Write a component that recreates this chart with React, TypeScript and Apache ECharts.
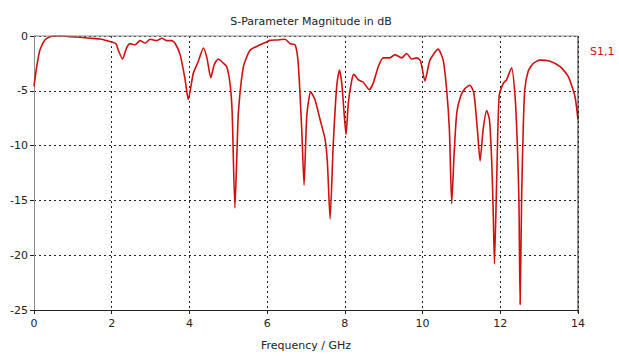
import React, { useEffect, useRef } from "react";
import * as echarts from "echarts";

const title = "S-Parameter Magnitude in dB";
const seriesName = "S1,1";
const xAxisName = "Frequency / GHz";

const freq = [
  0.0, 0.07, 0.15, 0.28, 0.41, 0.54, 0.71, 0.93, 1.18, 1.44, 1.7, 1.91, 2.0, 2.11, 2.17, 2.28, 2.38, 2.47, 2.6, 2.73,
  2.86, 2.99, 3.16, 3.29, 3.41, 3.54, 3.63, 3.76, 3.89, 3.97, 4.1, 4.23, 4.36, 4.45, 4.55, 4.64, 4.74, 4.85, 4.96, 5.05,
  5.1, 5.17, 5.22, 5.26, 5.39, 5.56, 5.82, 5.95, 6.07, 6.25, 6.46, 6.59, 6.72, 6.8, 6.89, 6.95, 7.02, 7.12, 7.23, 7.36,
  7.49, 7.55, 7.62, 7.7, 7.79, 7.86, 7.92, 7.98, 8.03, 8.09, 8.18, 8.23, 8.35, 8.47, 8.63, 8.73, 8.86, 8.99, 9.16, 9.29,
  9.46, 9.59, 9.72, 9.85, 9.95, 10.06, 10.19, 10.4, 10.53, 10.62, 10.69, 10.75, 10.81, 10.88, 10.98, 11.09, 11.22, 11.32,
  11.41, 11.48, 11.56, 11.65, 11.72, 11.78, 11.82, 11.85, 11.91, 11.97, 12.08, 12.16, 12.29, 12.38, 12.44, 12.48, 12.51,
  12.55, 12.59, 12.63, 12.72, 12.85, 13.02, 13.28, 13.54, 13.75, 13.92, 14.0,
];

const s11 = [
  -4.6, -2.8, -1.3, -0.36, -0.06, 0, 0, -0.06, -0.12, -0.2, -0.27, -0.45, -0.55, -0.7, -1.3, -2.1, -1.1, -0.7, -0.8, -0.42,
  -0.66, -0.3, -0.42, -0.2, -0.42, -0.42, -0.66, -1.7, -4.0, -5.8, -3.4, -2.3, -1.1, -2.0, -3.8, -2.6, -2.1, -2.4, -2.8, -4.5,
  -7.0, -15.7, -11, -7.0, -2.8, -1.3, -0.8, -0.6, -0.4, -0.36, -0.3, -0.7, -0.8, -2.5, -8.5, -13.6, -7.3, -5.1, -5.8, -7.6,
  -9.4, -11.5, -16.7, -10, -4.6, -3.1, -4.3, -7.0, -9.0, -6.1, -4.0, -3.5, -4.0, -4.2, -4.9, -4.3, -2.8, -2.0, -2.0, -1.7,
  -2.0, -1.6, -2.1, -2.0, -2.3, -4.1, -2.2, -1.2, -2.2, -4.9, -8.5, -15.3, -10.9, -7.0, -5.5, -4.8, -4.5, -5.2,
  -8.5, -11.4, -8.5, -6.8, -7.6, -11.5, -16.3, -20.8, -12.7, -5.5, -4.3, -4.0, -2.9, -5.5, -10, -15.1, -24.5,
  -14.5, -8.5, -4.9, -3.2, -2.5, -2.2, -2.3, -2.8, -3.7, -5.5, -7.6,
];

const xTicks = { min: 0, max: 14, interval: 2 };
const yTicks = { min: -25, max: 0, interval: 5 };

const FONT = "DejaVu Sans";

export default function App() {
  const ref = useRef<HTMLDivElement>(null);

  useEffect(() => {
    if (!ref.current) return;
    const chart = echarts.init(ref.current, undefined, { renderer: "svg" });
    const data = freq.map((f, i) => [f, s11[i]]);
    chart.setOption({
      animation: false,
      backgroundColor: "#ffffff",
      title: {
        text: title,
        left: 306,
        textAlign: "center",
        top: 11,
        textStyle: { fontFamily: FONT, fontSize: 11, fontWeight: "normal", color: "#222" },
      },
      legend: {
        data: [seriesName],
        left: 580,
        top: 39,
        icon: "none",
        itemWidth: 0,
        itemGap: 0,
        textStyle: { fontFamily: FONT, fontSize: 11, color: "#d01010" },
      },
      grid: { left: 34, right: 41, top: 36, bottom: 43, show: false },
      xAxis: {
        type: "value",
        min: xTicks.min,
        max: xTicks.max,
        interval: xTicks.interval,
        name: xAxisName,
        nameLocation: "middle",
        nameGap: 30,
        nameTextStyle: { fontFamily: FONT, fontSize: 11, color: "#222" },
        axisLine: { show: true, onZero: false, lineStyle: { color: "#222", width: 1 } },
        axisTick: { show: true, length: 4, lineStyle: { color: "#222" } },
        axisLabel: { fontFamily: FONT, fontSize: 11, color: "#222", margin: 8 },
        splitLine: { show: true, lineStyle: { color: "#222", type: [2, 3], width: 1 } },
      },
      yAxis: {
        type: "value",
        min: yTicks.min,
        max: yTicks.max,
        interval: yTicks.interval,
        axisLine: { show: true, onZero: false, lineStyle: { color: "#888", width: 1 } },
        axisTick: { show: true, length: 4, lineStyle: { color: "#222" } },
        axisLabel: { fontFamily: FONT, fontSize: 11, color: "#222", margin: 6 },
        splitLine: { show: true, lineStyle: { color: "#222", type: [2, 3], width: 1 } },
      },
      graphic: [
        { type: "line", shape: { x1: 34, y1: 36, x2: 578, y2: 36 }, style: { stroke: "#888", lineWidth: 1 }, z: 10 },
        { type: "line", shape: { x1: 578, y1: 36, x2: 578, y2: 313 }, style: { stroke: "#222", lineWidth: 1 }, z: 10 },
      ],
      series: [
        {
          name: seriesName,
          type: "line",
          data,
          showSymbol: false,
          symbol: "none",
          smooth: 0.2,
          lineStyle: { color: "#d01010", width: 1.6 },
          itemStyle: { color: "#d01010" },
          clip: true,
          z: 5,
        },
      ],
    });
    return () => chart.dispose();
  }, []);

  return <div ref={ref} style={{ width: 619, height: 356, position: "absolute", left: 0, top: 0 }} />;
}
